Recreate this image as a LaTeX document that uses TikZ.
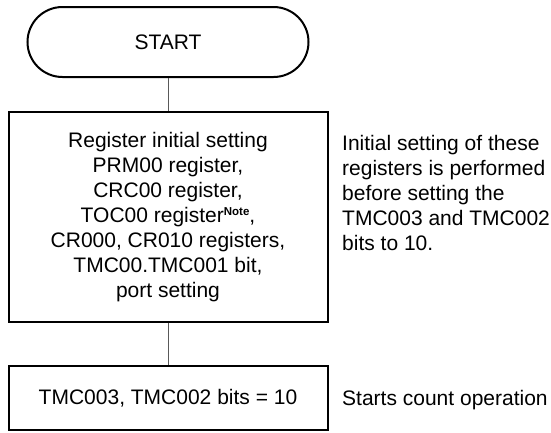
\documentclass[tikz,border=0pt]{standalone}
\usepackage{fontspec}
\setmainfont{Liberation Sans}
\begin{document}
\begin{tikzpicture}[x=1pt,y=-1pt,
  txt/.style={font=\fontsize{21}{25}\selectfont},
  term/.style={txt, draw, line width=2pt, rounded corners=35pt, minimum width=281pt, minimum height=70pt, inner sep=0pt},
  proc/.style={txt, draw, line width=2pt, inner sep=0pt, align=center, minimum width=319pt},
  conn/.style={line width=0.9pt, black!65},
  remark/.style={txt, inner sep=0pt, align=left}]
\useasboundingbox (0,0) rectangle (551,432);
\node[term] (start) at (168,42) {START};
\node[proc, minimum height=210pt] (init) at (168,217) {Register initial setting\\PRM00 register,\\CRC00 register,\\TOC00 register\raisebox{7pt}{\fontsize{11.5}{11.5}\selectfont\bfseries Note},\\CR000, CR010 registers,\\TMC00.TMC001 bit,\\port setting};
\node[proc, minimum height=64pt] (run) at (168,398) {TMC003, TMC002 bits = 10};
\node[remark, anchor=north west] (r1) at (342,135) {Initial setting of these\\registers is performed\\before setting the\\TMC003 and TMC002\\bits to 10.};
\node[remark, anchor=base west] (r2) at (342,405) {Starts count operation};
\draw[conn] (start) -- (init);
\draw[conn] (init) -- (run);
\end{tikzpicture}
\end{document}
